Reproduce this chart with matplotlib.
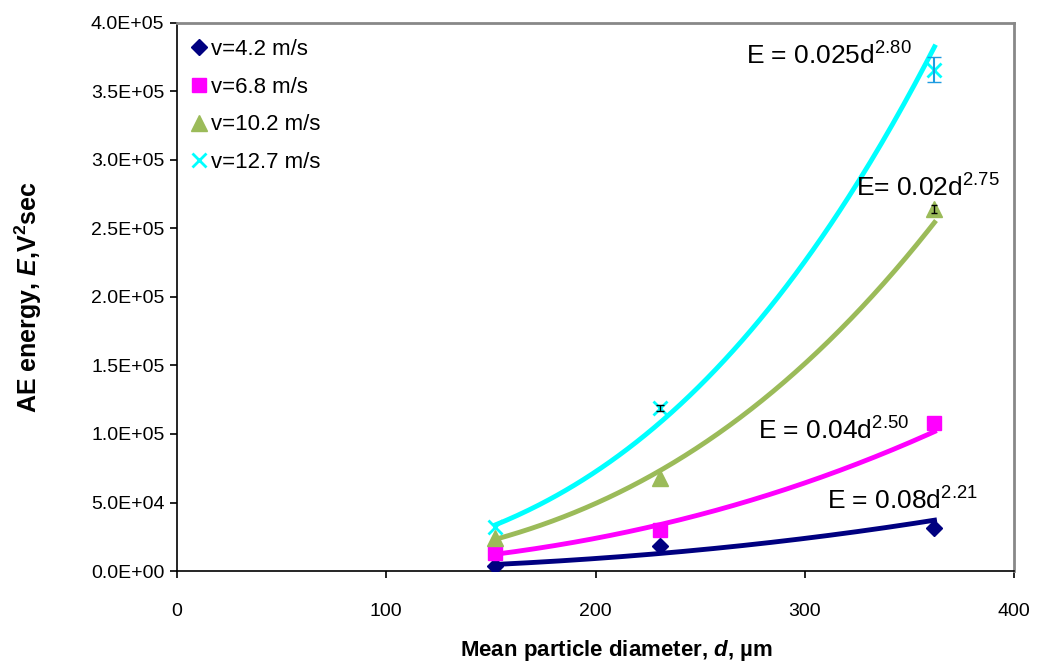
import numpy as np
import matplotlib
matplotlib.use("Agg")
import matplotlib.pyplot as plt
from matplotlib.ticker import FuncFormatter

plt.rcParams['font.family'] = ['Liberation Sans', 'DejaVu Sans']
plt.rcParams['mathtext.fontset'] = 'custom'
plt.rcParams['mathtext.rm'] = 'Liberation Sans'
plt.rcParams['mathtext.it'] = 'Liberation Sans:italic'
plt.rcParams['mathtext.bf'] = 'Liberation Sans:bold'
plt.rcParams['mathtext.bfit'] = 'Liberation Sans:bold:italic'

# Data
diameters = [152, 231, 362]
labels = ["v=4.2 m/s", "v=6.8 m/s", "v=10.2 m/s", "v=12.7 m/s"]
E_v42 = [4000, 18000, 31500]
E_v68 = [13000, 30000, 108000]
E_v102 = [24000, 68000, 264000]
E_v127 = [32000, 119000, 366000]
err_v127 = [2500, 2500, 9000]
err_v102 = [0, 0, 3000]
fit_labels = ["E = 0.08d$^{2.21}$", "E = 0.04d$^{2.50}$", "E= 0.02d$^{2.75}$", "E = 0.025d$^{2.80}$"]
x_ticks = [0, 100, 200, 300, 400]
y_ticks = [0, 5e4, 1e5, 1.5e5, 2e5, 2.5e5, 3e5, 3.5e5, 4e5]

series = [E_v42, E_v68, E_v102, E_v127]
colors = ["#000080", "#FF00FF", "#9BBB59", "#00FFFF"]
markers = ["D", "s", "^", "x"]
msizes = [8, 10, 11, 10]

fig = plt.figure(figsize=(10.43, 6.68), dpi=100)
ax = fig.add_axes([0.1697, 0.1452, 0.8025, 0.8204])

d = np.array(diameters, dtype=float)
xs = np.linspace(d.min(), d.max(), 200)
for vals, c, m, ms, lab in zip(series, colors, markers, msizes, labels):
    v = np.array(vals, dtype=float)
    b, a = np.polyfit(np.log(d), np.log(v), 1)
    ax.plot(xs, np.exp(a) * xs ** b, color=c, lw=3.5, zorder=2)
    ax.plot(d, v, linestyle='none', marker=m, color=c, markersize=ms,
            markeredgewidth=2 if m == 'x' else 1, label=lab, zorder=3)

ax.errorbar(diameters[1:2], E_v127[1:2], yerr=err_v127[1:2], fmt='none',
            ecolor='black', capsize=3, lw=1, zorder=4)
ax.errorbar(diameters[2:], E_v127[2:], yerr=err_v127[2:], fmt='none',
            ecolor='#1E9BE0', capsize=5, lw=1.5, zorder=4)
ax.errorbar(diameters[2:], E_v102[2:], yerr=err_v102[2:], fmt='none',
            ecolor='black', capsize=2, lw=1, zorder=4)

ax.set_xlim(0, 400)
ax.set_ylim(0, 4e5)
ax.set_xticks(x_ticks)
ax.set_yticks(y_ticks)
ax.yaxis.set_major_formatter(FuncFormatter(lambda v, p: "%.1E" % v))
ax.tick_params(axis='both', direction='out', length=5, width=1.2, labelsize=14, colors='black')
ax.tick_params(axis='x', pad=18)
ax.tick_params(axis='y', pad=4)

for s in ['left', 'bottom']:
    ax.spines[s].set_color('black')
    ax.spines[s].set_linewidth(1.2)
for s in ['top', 'right']:
    ax.spines[s].set_color('#888888')
    ax.spines[s].set_linewidth(2)

ax.set_xlabel(r"Mean particle diameter, $\mathbfit{d}$, µm", fontsize=16, fontweight='bold')
ax.xaxis.set_label_coords(0.525, -0.122)
ax.set_ylabel(r"AE energy, $\mathbfit{E}$,V$^\mathbf{2}$sec", fontsize=18, fontweight='bold')
ax.yaxis.set_label_coords(-0.159, 0.5)

ann_pos = [(383, 44500), (350, 95600), (393, 273000), (351, 369300)]
for (tx, ty), t in zip(ann_pos, fit_labels):
    ax.text(tx, ty, t, fontsize=19, ha='right', va='baseline')

leg = ax.legend(loc='upper left', frameon=False, fontsize=16, handlelength=0.8,
                handletextpad=0.15, labelspacing=0.75, borderaxespad=0.2,
                bbox_to_anchor=(0.0, 0.995))

fig.savefig("out.png", dpi=100)
